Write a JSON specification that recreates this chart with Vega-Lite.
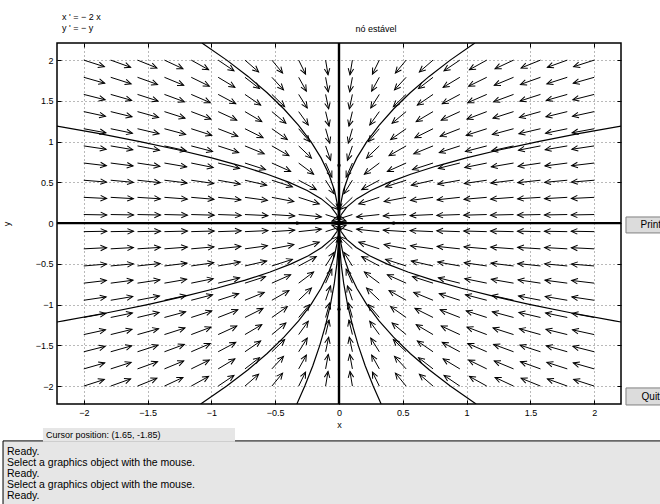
{
  "$schema": "https://vega.github.io/schema/vega-lite/v6.json",
  "width": 564,
  "height": 361,
  "autosize": {"type": "none"},
  "padding": {"left": 57, "top": 43, "right": 39, "bottom": 100},
  "background": "#ffffff",
  "config": {
    "font": "Liberation Sans",
    "view": {"stroke": "#000000", "strokeWidth": 1.5},
    "axis": {
      "labelFont": "Liberation Sans", "labelFontSize": 9, "labelColor": "#000000",
      "tickColor": "#000000", "domain": false,
      "titleFont": "Liberation Sans", "titleFontSize": 9, "titleFontWeight": "normal", "titleColor": "#000000"
    }
  },
  "data": {"values": [{}]},
  "datasets": {
    "field": [
      {"x":-2,"y":2,"hx":-1.839,"hy":1.919,"a":18},{"x":-1.789,"y":2,"hx":-1.633,"hy":1.912,"a":20},{"x":-1.579,"y":2,"hx":-1.427,"hy":1.904,"a":22},{"x":-1.368,"y":2,"hx":-1.223,"hy":1.894,"a":25},{"x":-1.158,"y":2,"hx":-1.022,"hy":1.882,"a":29},{"x":-0.947,"y":2,"hx":-0.823,"hy":1.869,"a":34},{"x":-0.737,"y":2,"hx":-0.63,"hy":1.855,"a":41},{"x":-0.526,"y":2,"hx":-0.442,"hy":1.841,"a":51},{"x":-0.316,"y":2,"hx":-0.262,"hy":1.828,"a":64},{"x":-0.105,"y":2,"hx":-0.086,"hy":1.821,"a":81},
      {"x":0.105,"y":2,"hx":0.086,"hy":1.821,"a":99},{"x":0.316,"y":2,"hx":0.262,"hy":1.828,"a":116},{"x":0.526,"y":2,"hx":0.442,"hy":1.841,"a":129},{"x":0.737,"y":2,"hx":0.63,"hy":1.855,"a":139},{"x":0.947,"y":2,"hx":0.823,"hy":1.869,"a":146},{"x":1.158,"y":2,"hx":1.022,"hy":1.882,"a":151},{"x":1.368,"y":2,"hx":1.223,"hy":1.894,"a":155},{"x":1.579,"y":2,"hx":1.427,"hy":1.904,"a":158},{"x":1.789,"y":2,"hx":1.633,"hy":1.912,"a":160},{"x":2,"y":2,"hx":1.839,"hy":1.919,"a":162},

      {"x":-2,"y":1.789,"hx":-1.836,"hy":1.716,"a":16},{"x":-1.789,"y":1.789,"hx":-1.629,"hy":1.709,"a":18},{"x":-1.579,"y":1.789,"hx":-1.422,"hy":1.701,"a":20},{"x":-1.368,"y":1.789,"hx":-1.217,"hy":1.691,"a":23},{"x":-1.158,"y":1.789,"hx":-1.016,"hy":1.68,"a":26},{"x":-0.947,"y":1.789,"hx":-0.816,"hy":1.666,"a":31},{"x":-0.737,"y":1.789,"hx":-0.623,"hy":1.651,"a":38},{"x":-0.526,"y":1.789,"hx":-0.435,"hy":1.635,"a":47},{"x":-0.316,"y":1.789,"hx":-0.256,"hy":1.62,"a":61},{"x":-0.105,"y":1.789,"hx":-0.084,"hy":1.611,"a":80},
      {"x":0.105,"y":1.789,"hx":0.084,"hy":1.611,"a":100},{"x":0.316,"y":1.789,"hx":0.256,"hy":1.62,"a":119},{"x":0.526,"y":1.789,"hx":0.435,"hy":1.635,"a":133},{"x":0.737,"y":1.789,"hx":0.623,"hy":1.651,"a":142},{"x":0.947,"y":1.789,"hx":0.816,"hy":1.666,"a":149},{"x":1.158,"y":1.789,"hx":1.016,"hy":1.68,"a":154},{"x":1.368,"y":1.789,"hx":1.217,"hy":1.691,"a":157},{"x":1.579,"y":1.789,"hx":1.422,"hy":1.701,"a":160},{"x":1.789,"y":1.789,"hx":1.629,"hy":1.709,"a":162},{"x":2,"y":1.789,"hx":1.836,"hy":1.716,"a":164},

      {"x":-2,"y":1.579,"hx":-1.833,"hy":1.513,"a":14},{"x":-1.789,"y":1.579,"hx":-1.625,"hy":1.506,"a":16},{"x":-1.579,"y":1.579,"hx":-1.418,"hy":1.498,"a":18},{"x":-1.368,"y":1.579,"hx":-1.212,"hy":1.489,"a":20},{"x":-1.158,"y":1.579,"hx":-1.009,"hy":1.478,"a":24},{"x":-0.947,"y":1.579,"hx":-0.809,"hy":1.464,"a":28},{"x":-0.737,"y":1.579,"hx":-0.614,"hy":1.447,"a":34},{"x":-0.526,"y":1.579,"hx":-0.426,"hy":1.429,"a":44},{"x":-0.316,"y":1.579,"hx":-0.249,"hy":1.412,"a":58},{"x":-0.105,"y":1.579,"hx":-0.081,"hy":1.401,"a":78},
      {"x":0.105,"y":1.579,"hx":0.081,"hy":1.401,"a":102},{"x":0.316,"y":1.579,"hx":0.249,"hy":1.412,"a":122},{"x":0.526,"y":1.579,"hx":0.426,"hy":1.429,"a":136},{"x":0.737,"y":1.579,"hx":0.614,"hy":1.447,"a":146},{"x":0.947,"y":1.579,"hx":0.809,"hy":1.464,"a":152},{"x":1.158,"y":1.579,"hx":1.009,"hy":1.478,"a":156},{"x":1.368,"y":1.579,"hx":1.212,"hy":1.489,"a":160},{"x":1.579,"y":1.579,"hx":1.418,"hy":1.498,"a":162},{"x":1.789,"y":1.579,"hx":1.625,"hy":1.506,"a":164},{"x":2,"y":1.579,"hx":1.833,"hy":1.513,"a":166},

      {"x":-2,"y":1.368,"hx":-1.83,"hy":1.31,"a":12},{"x":-1.789,"y":1.368,"hx":-1.622,"hy":1.304,"a":14},{"x":-1.579,"y":1.368,"hx":-1.414,"hy":1.296,"a":15},{"x":-1.368,"y":1.368,"hx":-1.207,"hy":1.287,"a":18},{"x":-1.158,"y":1.368,"hx":-1.003,"hy":1.276,"a":21},{"x":-0.947,"y":1.368,"hx":-0.801,"hy":1.263,"a":25},{"x":-0.737,"y":1.368,"hx":-0.605,"hy":1.246,"a":31},{"x":-0.526,"y":1.368,"hx":-0.416,"hy":1.225,"a":40},{"x":-0.316,"y":1.368,"hx":-0.241,"hy":1.205,"a":54},{"x":-0.105,"y":1.368,"hx":-0.078,"hy":1.19,"a":76},
      {"x":0.105,"y":1.368,"hx":0.078,"hy":1.19,"a":104},{"x":0.316,"y":1.368,"hx":0.241,"hy":1.205,"a":126},{"x":0.526,"y":1.368,"hx":0.416,"hy":1.225,"a":140},{"x":0.737,"y":1.368,"hx":0.605,"hy":1.246,"a":149},{"x":0.947,"y":1.368,"hx":0.801,"hy":1.263,"a":155},{"x":1.158,"y":1.368,"hx":1.003,"hy":1.276,"a":159},{"x":1.368,"y":1.368,"hx":1.207,"hy":1.287,"a":162},{"x":1.579,"y":1.368,"hx":1.414,"hy":1.296,"a":165},{"x":1.789,"y":1.368,"hx":1.622,"hy":1.304,"a":166},{"x":2,"y":1.368,"hx":1.83,"hy":1.31,"a":168},

      {"x":-2,"y":1.158,"hx":-1.827,"hy":1.108,"a":10},{"x":-1.789,"y":1.158,"hx":-1.619,"hy":1.103,"a":12},{"x":-1.579,"y":1.158,"hx":-1.41,"hy":1.096,"a":13},{"x":-1.368,"y":1.158,"hx":-1.202,"hy":1.088,"a":15},{"x":-1.158,"y":1.158,"hx":-0.997,"hy":1.077,"a":18},{"x":-0.947,"y":1.158,"hx":-0.793,"hy":1.064,"a":21},{"x":-0.737,"y":1.158,"hx":-0.595,"hy":1.047,"a":27},{"x":-0.526,"y":1.158,"hx":-0.405,"hy":1.025,"a":35},{"x":-0.316,"y":1.158,"hx":-0.23,"hy":1,"a":50},{"x":-0.105,"y":1.158,"hx":-0.073,"hy":0.981,"a":74},
      {"x":0.105,"y":1.158,"hx":0.073,"hy":0.981,"a":106},{"x":0.316,"y":1.158,"hx":0.23,"hy":1,"a":130},{"x":0.526,"y":1.158,"hx":0.405,"hy":1.025,"a":145},{"x":0.737,"y":1.158,"hx":0.595,"hy":1.047,"a":153},{"x":0.947,"y":1.158,"hx":0.793,"hy":1.064,"a":159},{"x":1.158,"y":1.158,"hx":0.997,"hy":1.077,"a":162},{"x":1.368,"y":1.158,"hx":1.202,"hy":1.088,"a":165},{"x":1.579,"y":1.158,"hx":1.41,"hy":1.096,"a":167},{"x":1.789,"y":1.158,"hx":1.619,"hy":1.103,"a":168},{"x":2,"y":1.158,"hx":1.827,"hy":1.108,"a":170},

      {"x":-2,"y":0.947,"hx":-1.825,"hy":0.906,"a":9},{"x":-1.789,"y":0.947,"hx":-1.616,"hy":0.901,"a":10},{"x":-1.579,"y":0.947,"hx":-1.407,"hy":0.895,"a":11},{"x":-1.368,"y":0.947,"hx":-1.198,"hy":0.888,"a":12},{"x":-1.158,"y":0.947,"hx":-0.991,"hy":0.879,"a":15},{"x":-0.947,"y":0.947,"hx":-0.786,"hy":0.866,"a":18},{"x":-0.737,"y":0.947,"hx":-0.586,"hy":0.85,"a":22},{"x":-0.526,"y":0.947,"hx":-0.392,"hy":0.827,"a":30},{"x":-0.316,"y":0.947,"hx":-0.216,"hy":0.797,"a":44},{"x":-0.105,"y":0.947,"hx":-0.066,"hy":0.771,"a":71},
      {"x":0.105,"y":0.947,"hx":0.066,"hy":0.771,"a":109},{"x":0.316,"y":0.947,"hx":0.216,"hy":0.797,"a":136},{"x":0.526,"y":0.947,"hx":0.392,"hy":0.827,"a":150},{"x":0.737,"y":0.947,"hx":0.586,"hy":0.85,"a":158},{"x":0.947,"y":0.947,"hx":0.786,"hy":0.866,"a":162},{"x":1.158,"y":0.947,"hx":0.991,"hy":0.879,"a":165},{"x":1.368,"y":0.947,"hx":1.198,"hy":0.888,"a":168},{"x":1.579,"y":0.947,"hx":1.407,"hy":0.895,"a":169},{"x":1.789,"y":0.947,"hx":1.616,"hy":0.901,"a":170},{"x":2,"y":0.947,"hx":1.825,"hy":0.906,"a":171},

      {"x":-2,"y":0.737,"hx":-1.823,"hy":0.704,"a":7},{"x":-1.789,"y":0.737,"hx":-1.614,"hy":0.701,"a":7},{"x":-1.579,"y":0.737,"hx":-1.404,"hy":0.696,"a":8},{"x":-1.368,"y":0.737,"hx":-1.194,"hy":0.69,"a":10},{"x":-1.158,"y":0.737,"hx":-0.986,"hy":0.682,"a":11},{"x":-0.947,"y":0.737,"hx":-0.779,"hy":0.672,"a":14},{"x":-0.737,"y":0.737,"hx":-0.576,"hy":0.656,"a":18},{"x":-0.526,"y":0.737,"hx":-0.379,"hy":0.634,"a":24},{"x":-0.316,"y":0.737,"hx":-0.199,"hy":0.6,"a":37},{"x":-0.105,"y":0.737,"hx":-0.056,"hy":0.564,"a":66},
      {"x":0.105,"y":0.737,"hx":0.056,"hy":0.564,"a":114},{"x":0.316,"y":0.737,"hx":0.199,"hy":0.6,"a":143},{"x":0.526,"y":0.737,"hx":0.379,"hy":0.634,"a":156},{"x":0.737,"y":0.737,"hx":0.576,"hy":0.656,"a":162},{"x":0.947,"y":0.737,"hx":0.779,"hy":0.672,"a":166},{"x":1.158,"y":0.737,"hx":0.986,"hy":0.682,"a":169},{"x":1.368,"y":0.737,"hx":1.194,"hy":0.69,"a":170},{"x":1.579,"y":0.737,"hx":1.404,"hy":0.696,"a":172},{"x":1.789,"y":0.737,"hx":1.614,"hy":0.701,"a":173},{"x":2,"y":0.737,"hx":1.823,"hy":0.704,"a":173},

      {"x":-2,"y":0.526,"hx":-1.822,"hy":0.503,"a":5},{"x":-1.789,"y":0.526,"hx":-1.612,"hy":0.5,"a":5},{"x":-1.579,"y":0.526,"hx":-1.401,"hy":0.496,"a":6},{"x":-1.368,"y":0.526,"hx":-1.191,"hy":0.492,"a":7},{"x":-1.158,"y":0.526,"hx":-0.982,"hy":0.486,"a":8},{"x":-0.947,"y":0.526,"hx":-0.774,"hy":0.478,"a":10},{"x":-0.737,"y":0.526,"hx":-0.567,"hy":0.465,"a":13},{"x":-0.526,"y":0.526,"hx":-0.365,"hy":0.445,"a":18},{"x":-0.316,"y":0.526,"hx":-0.178,"hy":0.411,"a":28},{"x":-0.105,"y":0.526,"hx":-0.038,"hy":0.359,"a":58},
      {"x":0.105,"y":0.526,"hx":0.038,"hy":0.359,"a":122},{"x":0.316,"y":0.526,"hx":0.178,"hy":0.411,"a":152},{"x":0.526,"y":0.526,"hx":0.365,"hy":0.445,"a":162},{"x":0.737,"y":0.526,"hx":0.567,"hy":0.465,"a":167},{"x":0.947,"y":0.526,"hx":0.774,"hy":0.478,"a":170},{"x":1.158,"y":0.526,"hx":0.982,"hy":0.486,"a":172},{"x":1.368,"y":0.526,"hx":1.191,"hy":0.492,"a":173},{"x":1.579,"y":0.526,"hx":1.401,"hy":0.496,"a":174},{"x":1.789,"y":0.526,"hx":1.612,"hy":0.5,"a":175},{"x":2,"y":0.526,"hx":1.822,"hy":0.503,"a":175},

      {"x":-2,"y":0.316,"hx":-1.821,"hy":0.302,"a":3},{"x":-1.789,"y":0.316,"hx":-1.611,"hy":0.3,"a":3},{"x":-1.579,"y":0.316,"hx":-1.4,"hy":0.298,"a":4},{"x":-1.368,"y":0.316,"hx":-1.189,"hy":0.295,"a":4},{"x":-1.158,"y":0.316,"hx":-0.98,"hy":0.292,"a":5},{"x":-0.947,"y":0.316,"hx":-0.769,"hy":0.286,"a":6},{"x":-0.737,"y":0.316,"hx":-0.561,"hy":0.278,"a":8},{"x":-0.526,"y":0.316,"hx":-0.354,"hy":0.264,"a":11},{"x":-0.316,"y":0.316,"hx":-0.155,"hy":0.235,"a":18},{"x":-0.105,"y":0.316,"hx":-0.005,"hy":0.166,"a":44},
      {"x":0.105,"y":0.316,"hx":0.005,"hy":0.166,"a":136},{"x":0.316,"y":0.316,"hx":0.155,"hy":0.235,"a":162},{"x":0.526,"y":0.316,"hx":0.354,"hy":0.264,"a":169},{"x":0.737,"y":0.316,"hx":0.561,"hy":0.278,"a":172},{"x":0.947,"y":0.316,"hx":0.769,"hy":0.286,"a":174},{"x":1.158,"y":0.316,"hx":0.98,"hy":0.292,"a":175},{"x":1.368,"y":0.316,"hx":1.189,"hy":0.295,"a":176},{"x":1.579,"y":0.316,"hx":1.4,"hy":0.298,"a":176},{"x":1.789,"y":0.316,"hx":1.611,"hy":0.3,"a":177},{"x":2,"y":0.316,"hx":1.821,"hy":0.302,"a":177},

      {"x":-2,"y":0.105,"hx":-1.82,"hy":0.1,"a":1},{"x":-1.789,"y":0.105,"hx":-1.61,"hy":0.1,"a":1},{"x":-1.579,"y":0.105,"hx":-1.399,"hy":0.099,"a":1},{"x":-1.368,"y":0.105,"hx":-1.188,"hy":0.098,"a":1},{"x":-1.158,"y":0.105,"hx":-0.978,"hy":0.097,"a":2},{"x":-0.947,"y":0.105,"hx":-0.767,"hy":0.095,"a":2},{"x":-0.737,"y":0.105,"hx":-0.557,"hy":0.092,"a":3},{"x":-0.526,"y":0.105,"hx":-0.347,"hy":0.087,"a":4},{"x":-0.316,"y":0.105,"hx":-0.138,"hy":0.075,"a":6},{"x":-0.105,"y":0.105,"hx":0.056,"hy":0.024,"a":18},
      {"x":0.105,"y":0.105,"hx":-0.056,"hy":0.024,"a":162},{"x":0.316,"y":0.105,"hx":0.138,"hy":0.075,"a":174},{"x":0.526,"y":0.105,"hx":0.347,"hy":0.087,"a":176},{"x":0.737,"y":0.105,"hx":0.557,"hy":0.092,"a":177},{"x":0.947,"y":0.105,"hx":0.767,"hy":0.095,"a":178},{"x":1.158,"y":0.105,"hx":0.978,"hy":0.097,"a":178},{"x":1.368,"y":0.105,"hx":1.188,"hy":0.098,"a":179},{"x":1.579,"y":0.105,"hx":1.399,"hy":0.099,"a":179},{"x":1.789,"y":0.105,"hx":1.61,"hy":0.1,"a":179},{"x":2,"y":0.105,"hx":1.82,"hy":0.1,"a":179},

      {"x":-2,"y":-0.105,"hx":-1.82,"hy":-0.1,"a":-1},{"x":-1.789,"y":-0.105,"hx":-1.61,"hy":-0.1,"a":-1},{"x":-1.579,"y":-0.105,"hx":-1.399,"hy":-0.099,"a":-1},{"x":-1.368,"y":-0.105,"hx":-1.188,"hy":-0.098,"a":-1},{"x":-1.158,"y":-0.105,"hx":-0.978,"hy":-0.097,"a":-2},{"x":-0.947,"y":-0.105,"hx":-0.767,"hy":-0.095,"a":-2},{"x":-0.737,"y":-0.105,"hx":-0.557,"hy":-0.092,"a":-3},{"x":-0.526,"y":-0.105,"hx":-0.347,"hy":-0.087,"a":-4},{"x":-0.316,"y":-0.105,"hx":-0.138,"hy":-0.075,"a":-6},{"x":-0.105,"y":-0.105,"hx":0.056,"hy":-0.024,"a":-18},
      {"x":0.105,"y":-0.105,"hx":-0.056,"hy":-0.024,"a":198},{"x":0.316,"y":-0.105,"hx":0.138,"hy":-0.075,"a":186},{"x":0.526,"y":-0.105,"hx":0.347,"hy":-0.087,"a":184},{"x":0.737,"y":-0.105,"hx":0.557,"hy":-0.092,"a":183},{"x":0.947,"y":-0.105,"hx":0.767,"hy":-0.095,"a":182},{"x":1.158,"y":-0.105,"hx":0.978,"hy":-0.097,"a":182},{"x":1.368,"y":-0.105,"hx":1.188,"hy":-0.098,"a":181},{"x":1.579,"y":-0.105,"hx":1.399,"hy":-0.099,"a":181},{"x":1.789,"y":-0.105,"hx":1.61,"hy":-0.1,"a":181},{"x":2,"y":-0.105,"hx":1.82,"hy":-0.1,"a":181},

      {"x":-2,"y":-0.316,"hx":-1.821,"hy":-0.302,"a":-3},{"x":-1.789,"y":-0.316,"hx":-1.611,"hy":-0.3,"a":-3},{"x":-1.579,"y":-0.316,"hx":-1.4,"hy":-0.298,"a":-4},{"x":-1.368,"y":-0.316,"hx":-1.189,"hy":-0.295,"a":-4},{"x":-1.158,"y":-0.316,"hx":-0.98,"hy":-0.292,"a":-5},{"x":-0.947,"y":-0.316,"hx":-0.769,"hy":-0.286,"a":-6},{"x":-0.737,"y":-0.316,"hx":-0.561,"hy":-0.278,"a":-8},{"x":-0.526,"y":-0.316,"hx":-0.354,"hy":-0.264,"a":-11},{"x":-0.316,"y":-0.316,"hx":-0.155,"hy":-0.235,"a":-18},{"x":-0.105,"y":-0.316,"hx":-0.005,"hy":-0.166,"a":-44},
      {"x":0.105,"y":-0.316,"hx":0.005,"hy":-0.166,"a":224},{"x":0.316,"y":-0.316,"hx":0.155,"hy":-0.235,"a":198},{"x":0.526,"y":-0.316,"hx":0.354,"hy":-0.264,"a":191},{"x":0.737,"y":-0.316,"hx":0.561,"hy":-0.278,"a":188},{"x":0.947,"y":-0.316,"hx":0.769,"hy":-0.286,"a":186},{"x":1.158,"y":-0.316,"hx":0.98,"hy":-0.292,"a":185},{"x":1.368,"y":-0.316,"hx":1.189,"hy":-0.295,"a":184},{"x":1.579,"y":-0.316,"hx":1.4,"hy":-0.298,"a":184},{"x":1.789,"y":-0.316,"hx":1.611,"hy":-0.3,"a":183},{"x":2,"y":-0.316,"hx":1.821,"hy":-0.302,"a":183},

      {"x":-2,"y":-0.526,"hx":-1.822,"hy":-0.503,"a":-5},{"x":-1.789,"y":-0.526,"hx":-1.612,"hy":-0.5,"a":-5},{"x":-1.579,"y":-0.526,"hx":-1.401,"hy":-0.496,"a":-6},{"x":-1.368,"y":-0.526,"hx":-1.191,"hy":-0.492,"a":-7},{"x":-1.158,"y":-0.526,"hx":-0.982,"hy":-0.486,"a":-8},{"x":-0.947,"y":-0.526,"hx":-0.774,"hy":-0.478,"a":-10},{"x":-0.737,"y":-0.526,"hx":-0.567,"hy":-0.465,"a":-13},{"x":-0.526,"y":-0.526,"hx":-0.365,"hy":-0.445,"a":-18},{"x":-0.316,"y":-0.526,"hx":-0.178,"hy":-0.411,"a":-28},{"x":-0.105,"y":-0.526,"hx":-0.038,"hy":-0.359,"a":-58},
      {"x":0.105,"y":-0.526,"hx":0.038,"hy":-0.359,"a":238},{"x":0.316,"y":-0.526,"hx":0.178,"hy":-0.411,"a":208},{"x":0.526,"y":-0.526,"hx":0.365,"hy":-0.445,"a":198},{"x":0.737,"y":-0.526,"hx":0.567,"hy":-0.465,"a":193},{"x":0.947,"y":-0.526,"hx":0.774,"hy":-0.478,"a":190},{"x":1.158,"y":-0.526,"hx":0.982,"hy":-0.486,"a":188},{"x":1.368,"y":-0.526,"hx":1.191,"hy":-0.492,"a":187},{"x":1.579,"y":-0.526,"hx":1.401,"hy":-0.496,"a":186},{"x":1.789,"y":-0.526,"hx":1.612,"hy":-0.5,"a":185},{"x":2,"y":-0.526,"hx":1.822,"hy":-0.503,"a":185},

      {"x":-2,"y":-0.737,"hx":-1.823,"hy":-0.704,"a":-7},{"x":-1.789,"y":-0.737,"hx":-1.614,"hy":-0.701,"a":-7},{"x":-1.579,"y":-0.737,"hx":-1.404,"hy":-0.696,"a":-8},{"x":-1.368,"y":-0.737,"hx":-1.194,"hy":-0.69,"a":-10},{"x":-1.158,"y":-0.737,"hx":-0.986,"hy":-0.682,"a":-11},{"x":-0.947,"y":-0.737,"hx":-0.779,"hy":-0.672,"a":-14},{"x":-0.737,"y":-0.737,"hx":-0.576,"hy":-0.656,"a":-18},{"x":-0.526,"y":-0.737,"hx":-0.379,"hy":-0.634,"a":-24},{"x":-0.316,"y":-0.737,"hx":-0.199,"hy":-0.6,"a":-37},{"x":-0.105,"y":-0.737,"hx":-0.056,"hy":-0.564,"a":-66},
      {"x":0.105,"y":-0.737,"hx":0.056,"hy":-0.564,"a":246},{"x":0.316,"y":-0.737,"hx":0.199,"hy":-0.6,"a":217},{"x":0.526,"y":-0.737,"hx":0.379,"hy":-0.634,"a":204},{"x":0.737,"y":-0.737,"hx":0.576,"hy":-0.656,"a":198},{"x":0.947,"y":-0.737,"hx":0.779,"hy":-0.672,"a":194},{"x":1.158,"y":-0.737,"hx":0.986,"hy":-0.682,"a":191},{"x":1.368,"y":-0.737,"hx":1.194,"hy":-0.69,"a":190},{"x":1.579,"y":-0.737,"hx":1.404,"hy":-0.696,"a":188},{"x":1.789,"y":-0.737,"hx":1.614,"hy":-0.701,"a":187},{"x":2,"y":-0.737,"hx":1.823,"hy":-0.704,"a":187},

      {"x":-2,"y":-0.947,"hx":-1.825,"hy":-0.906,"a":-9},{"x":-1.789,"y":-0.947,"hx":-1.616,"hy":-0.901,"a":-10},{"x":-1.579,"y":-0.947,"hx":-1.407,"hy":-0.895,"a":-11},{"x":-1.368,"y":-0.947,"hx":-1.198,"hy":-0.888,"a":-12},{"x":-1.158,"y":-0.947,"hx":-0.991,"hy":-0.879,"a":-15},{"x":-0.947,"y":-0.947,"hx":-0.786,"hy":-0.866,"a":-18},{"x":-0.737,"y":-0.947,"hx":-0.586,"hy":-0.85,"a":-22},{"x":-0.526,"y":-0.947,"hx":-0.392,"hy":-0.827,"a":-30},{"x":-0.316,"y":-0.947,"hx":-0.216,"hy":-0.797,"a":-44},{"x":-0.105,"y":-0.947,"hx":-0.066,"hy":-0.771,"a":-71},
      {"x":0.105,"y":-0.947,"hx":0.066,"hy":-0.771,"a":251},{"x":0.316,"y":-0.947,"hx":0.216,"hy":-0.797,"a":224},{"x":0.526,"y":-0.947,"hx":0.392,"hy":-0.827,"a":210},{"x":0.737,"y":-0.947,"hx":0.586,"hy":-0.85,"a":202},{"x":0.947,"y":-0.947,"hx":0.786,"hy":-0.866,"a":198},{"x":1.158,"y":-0.947,"hx":0.991,"hy":-0.879,"a":195},{"x":1.368,"y":-0.947,"hx":1.198,"hy":-0.888,"a":192},{"x":1.579,"y":-0.947,"hx":1.407,"hy":-0.895,"a":191},{"x":1.789,"y":-0.947,"hx":1.616,"hy":-0.901,"a":190},{"x":2,"y":-0.947,"hx":1.825,"hy":-0.906,"a":189},

      {"x":-2,"y":-1.158,"hx":-1.827,"hy":-1.108,"a":-10},{"x":-1.789,"y":-1.158,"hx":-1.619,"hy":-1.103,"a":-12},{"x":-1.579,"y":-1.158,"hx":-1.41,"hy":-1.096,"a":-13},{"x":-1.368,"y":-1.158,"hx":-1.202,"hy":-1.088,"a":-15},{"x":-1.158,"y":-1.158,"hx":-0.997,"hy":-1.077,"a":-18},{"x":-0.947,"y":-1.158,"hx":-0.793,"hy":-1.064,"a":-21},{"x":-0.737,"y":-1.158,"hx":-0.595,"hy":-1.047,"a":-27},{"x":-0.526,"y":-1.158,"hx":-0.405,"hy":-1.025,"a":-35},{"x":-0.316,"y":-1.158,"hx":-0.23,"hy":-1,"a":-50},{"x":-0.105,"y":-1.158,"hx":-0.073,"hy":-0.981,"a":-74},
      {"x":0.105,"y":-1.158,"hx":0.073,"hy":-0.981,"a":254},{"x":0.316,"y":-1.158,"hx":0.23,"hy":-1,"a":230},{"x":0.526,"y":-1.158,"hx":0.405,"hy":-1.025,"a":215},{"x":0.737,"y":-1.158,"hx":0.595,"hy":-1.047,"a":207},{"x":0.947,"y":-1.158,"hx":0.793,"hy":-1.064,"a":201},{"x":1.158,"y":-1.158,"hx":0.997,"hy":-1.077,"a":198},{"x":1.368,"y":-1.158,"hx":1.202,"hy":-1.088,"a":195},{"x":1.579,"y":-1.158,"hx":1.41,"hy":-1.096,"a":193},{"x":1.789,"y":-1.158,"hx":1.619,"hy":-1.103,"a":192},{"x":2,"y":-1.158,"hx":1.827,"hy":-1.108,"a":190},

      {"x":-2,"y":-1.368,"hx":-1.83,"hy":-1.31,"a":-12},{"x":-1.789,"y":-1.368,"hx":-1.622,"hy":-1.304,"a":-14},{"x":-1.579,"y":-1.368,"hx":-1.414,"hy":-1.296,"a":-15},{"x":-1.368,"y":-1.368,"hx":-1.207,"hy":-1.287,"a":-18},{"x":-1.158,"y":-1.368,"hx":-1.003,"hy":-1.276,"a":-21},{"x":-0.947,"y":-1.368,"hx":-0.801,"hy":-1.263,"a":-25},{"x":-0.737,"y":-1.368,"hx":-0.605,"hy":-1.246,"a":-31},{"x":-0.526,"y":-1.368,"hx":-0.416,"hy":-1.225,"a":-40},{"x":-0.316,"y":-1.368,"hx":-0.241,"hy":-1.205,"a":-54},{"x":-0.105,"y":-1.368,"hx":-0.078,"hy":-1.19,"a":-76},
      {"x":0.105,"y":-1.368,"hx":0.078,"hy":-1.19,"a":256},{"x":0.316,"y":-1.368,"hx":0.241,"hy":-1.205,"a":234},{"x":0.526,"y":-1.368,"hx":0.416,"hy":-1.225,"a":220},{"x":0.737,"y":-1.368,"hx":0.605,"hy":-1.246,"a":211},{"x":0.947,"y":-1.368,"hx":0.801,"hy":-1.263,"a":205},{"x":1.158,"y":-1.368,"hx":1.003,"hy":-1.276,"a":201},{"x":1.368,"y":-1.368,"hx":1.207,"hy":-1.287,"a":198},{"x":1.579,"y":-1.368,"hx":1.414,"hy":-1.296,"a":195},{"x":1.789,"y":-1.368,"hx":1.622,"hy":-1.304,"a":194},{"x":2,"y":-1.368,"hx":1.83,"hy":-1.31,"a":192},

      {"x":-2,"y":-1.579,"hx":-1.833,"hy":-1.513,"a":-14},{"x":-1.789,"y":-1.579,"hx":-1.625,"hy":-1.506,"a":-16},{"x":-1.579,"y":-1.579,"hx":-1.418,"hy":-1.498,"a":-18},{"x":-1.368,"y":-1.579,"hx":-1.212,"hy":-1.489,"a":-20},{"x":-1.158,"y":-1.579,"hx":-1.009,"hy":-1.478,"a":-24},{"x":-0.947,"y":-1.579,"hx":-0.809,"hy":-1.464,"a":-28},{"x":-0.737,"y":-1.579,"hx":-0.614,"hy":-1.447,"a":-34},{"x":-0.526,"y":-1.579,"hx":-0.426,"hy":-1.429,"a":-44},{"x":-0.316,"y":-1.579,"hx":-0.249,"hy":-1.412,"a":-58},{"x":-0.105,"y":-1.579,"hx":-0.081,"hy":-1.401,"a":-78},
      {"x":0.105,"y":-1.579,"hx":0.081,"hy":-1.401,"a":258},{"x":0.316,"y":-1.579,"hx":0.249,"hy":-1.412,"a":238},{"x":0.526,"y":-1.579,"hx":0.426,"hy":-1.429,"a":224},{"x":0.737,"y":-1.579,"hx":0.614,"hy":-1.447,"a":214},{"x":0.947,"y":-1.579,"hx":0.809,"hy":-1.464,"a":208},{"x":1.158,"y":-1.579,"hx":1.009,"hy":-1.478,"a":204},{"x":1.368,"y":-1.579,"hx":1.212,"hy":-1.489,"a":200},{"x":1.579,"y":-1.579,"hx":1.418,"hy":-1.498,"a":198},{"x":1.789,"y":-1.579,"hx":1.625,"hy":-1.506,"a":196},{"x":2,"y":-1.579,"hx":1.833,"hy":-1.513,"a":194},

      {"x":-2,"y":-1.789,"hx":-1.836,"hy":-1.716,"a":-16},{"x":-1.789,"y":-1.789,"hx":-1.629,"hy":-1.709,"a":-18},{"x":-1.579,"y":-1.789,"hx":-1.422,"hy":-1.701,"a":-20},{"x":-1.368,"y":-1.789,"hx":-1.217,"hy":-1.691,"a":-23},{"x":-1.158,"y":-1.789,"hx":-1.016,"hy":-1.68,"a":-26},{"x":-0.947,"y":-1.789,"hx":-0.816,"hy":-1.666,"a":-31},{"x":-0.737,"y":-1.789,"hx":-0.623,"hy":-1.651,"a":-38},{"x":-0.526,"y":-1.789,"hx":-0.435,"hy":-1.635,"a":-47},{"x":-0.316,"y":-1.789,"hx":-0.256,"hy":-1.62,"a":-61},{"x":-0.105,"y":-1.789,"hx":-0.084,"hy":-1.611,"a":-80},
      {"x":0.105,"y":-1.789,"hx":0.084,"hy":-1.611,"a":260},{"x":0.316,"y":-1.789,"hx":0.256,"hy":-1.62,"a":241},{"x":0.526,"y":-1.789,"hx":0.435,"hy":-1.635,"a":227},{"x":0.737,"y":-1.789,"hx":0.623,"hy":-1.651,"a":218},{"x":0.947,"y":-1.789,"hx":0.816,"hy":-1.666,"a":211},{"x":1.158,"y":-1.789,"hx":1.016,"hy":-1.68,"a":206},{"x":1.368,"y":-1.789,"hx":1.217,"hy":-1.691,"a":203},{"x":1.579,"y":-1.789,"hx":1.422,"hy":-1.701,"a":200},{"x":1.789,"y":-1.789,"hx":1.629,"hy":-1.709,"a":198},{"x":2,"y":-1.789,"hx":1.836,"hy":-1.716,"a":196},

      {"x":-2,"y":-2,"hx":-1.839,"hy":-1.919,"a":-18},{"x":-1.789,"y":-2,"hx":-1.633,"hy":-1.912,"a":-20},{"x":-1.579,"y":-2,"hx":-1.427,"hy":-1.904,"a":-22},{"x":-1.368,"y":-2,"hx":-1.223,"hy":-1.894,"a":-25},{"x":-1.158,"y":-2,"hx":-1.022,"hy":-1.882,"a":-29},{"x":-0.947,"y":-2,"hx":-0.823,"hy":-1.869,"a":-34},{"x":-0.737,"y":-2,"hx":-0.63,"hy":-1.855,"a":-41},{"x":-0.526,"y":-2,"hx":-0.442,"hy":-1.841,"a":-51},{"x":-0.316,"y":-2,"hx":-0.262,"hy":-1.828,"a":-64},{"x":-0.105,"y":-2,"hx":-0.086,"hy":-1.821,"a":-81},
      {"x":0.105,"y":-2,"hx":0.086,"hy":-1.821,"a":261},{"x":0.316,"y":-2,"hx":0.262,"hy":-1.828,"a":244},{"x":0.526,"y":-2,"hx":0.442,"hy":-1.841,"a":231},{"x":0.737,"y":-2,"hx":0.63,"hy":-1.855,"a":221},{"x":0.947,"y":-2,"hx":0.823,"hy":-1.869,"a":214},{"x":1.158,"y":-2,"hx":1.022,"hy":-1.882,"a":209},{"x":1.368,"y":-2,"hx":1.223,"hy":-1.894,"a":205},{"x":1.579,"y":-2,"hx":1.427,"hy":-1.904,"a":202},{"x":1.789,"y":-2,"hx":1.633,"hy":-1.912,"a":200},{"x":2,"y":-2,"hx":1.839,"hy":-1.919,"a":198}
    ],
    "orbits": [
      {"id":"a1","x":0,"y":0},{"id":"a1","x":-0.0088,"y":0.2},{"id":"a1","x":-0.0352,"y":0.4},{"id":"a1","x":-0.0792,"y":0.6},{"id":"a1","x":-0.1408,"y":0.8},{"id":"a1","x":-0.22,"y":1.0},{"id":"a1","x":-0.3168,"y":1.2},{"id":"a1","x":-0.4312,"y":1.4},{"id":"a1","x":-0.5632,"y":1.6},{"id":"a1","x":-0.7128,"y":1.8},{"id":"a1","x":-0.88,"y":2.0},{"id":"a1","x":-1.074,"y":2.21},
      {"id":"a2","x":0,"y":0},{"id":"a2","x":0.0087,"y":0.2},{"id":"a2","x":0.0349,"y":0.4},{"id":"a2","x":0.0785,"y":0.6},{"id":"a2","x":0.1395,"y":0.8},{"id":"a2","x":0.218,"y":1.0},{"id":"a2","x":0.3139,"y":1.2},{"id":"a2","x":0.4273,"y":1.4},{"id":"a2","x":0.5581,"y":1.6},{"id":"a2","x":0.7063,"y":1.8},{"id":"a2","x":0.872,"y":2.0},{"id":"a2","x":1.0647,"y":2.21},
      {"id":"a3","x":0,"y":0},{"id":"a3","x":-0.0088,"y":-0.2},{"id":"a3","x":-0.0352,"y":-0.4},{"id":"a3","x":-0.0792,"y":-0.6},{"id":"a3","x":-0.1408,"y":-0.8},{"id":"a3","x":-0.22,"y":-1.0},{"id":"a3","x":-0.3168,"y":-1.2},{"id":"a3","x":-0.4312,"y":-1.4},{"id":"a3","x":-0.5632,"y":-1.6},{"id":"a3","x":-0.7128,"y":-1.8},{"id":"a3","x":-0.88,"y":-2.0},{"id":"a3","x":-1.084,"y":-2.22},
      {"id":"a4","x":0,"y":0},{"id":"a4","x":0.0087,"y":-0.2},{"id":"a4","x":0.0349,"y":-0.4},{"id":"a4","x":0.0785,"y":-0.6},{"id":"a4","x":0.1395,"y":-0.8},{"id":"a4","x":0.218,"y":-1.0},{"id":"a4","x":0.3139,"y":-1.2},{"id":"a4","x":0.4273,"y":-1.4},{"id":"a4","x":0.5581,"y":-1.6},{"id":"a4","x":0.7063,"y":-1.8},{"id":"a4","x":0.872,"y":-2.0},{"id":"a4","x":1.0744,"y":-2.22},
      {"id":"b1","x":0,"y":0},{"id":"b1","x":-0.0156,"y":0.1},{"id":"b1","x":-0.0624,"y":0.2},{"id":"b1","x":-0.1404,"y":0.3},{"id":"b1","x":-0.2496,"y":0.4},{"id":"b1","x":-0.39,"y":0.5},{"id":"b1","x":-0.5616,"y":0.6},{"id":"b1","x":-0.7644,"y":0.7},{"id":"b1","x":-0.9984,"y":0.8},{"id":"b1","x":-1.2636,"y":0.9},{"id":"b1","x":-1.56,"y":1.0},{"id":"b1","x":-1.8876,"y":1.1},{"id":"b1","x":-2.21,"y":1.19},
      {"id":"b2","x":0,"y":0},{"id":"b2","x":0.0156,"y":0.1},{"id":"b2","x":0.0624,"y":0.2},{"id":"b2","x":0.1404,"y":0.3},{"id":"b2","x":0.2496,"y":0.4},{"id":"b2","x":0.39,"y":0.5},{"id":"b2","x":0.5616,"y":0.6},{"id":"b2","x":0.7644,"y":0.7},{"id":"b2","x":0.9984,"y":0.8},{"id":"b2","x":1.2636,"y":0.9},{"id":"b2","x":1.56,"y":1.0},{"id":"b2","x":1.8876,"y":1.1},{"id":"b2","x":2.21,"y":1.19},
      {"id":"b3","x":0,"y":0},{"id":"b3","x":-0.015,"y":-0.1},{"id":"b3","x":-0.06,"y":-0.2},{"id":"b3","x":-0.135,"y":-0.3},{"id":"b3","x":-0.24,"y":-0.4},{"id":"b3","x":-0.375,"y":-0.5},{"id":"b3","x":-0.54,"y":-0.6},{"id":"b3","x":-0.735,"y":-0.7},{"id":"b3","x":-0.96,"y":-0.8},{"id":"b3","x":-1.215,"y":-0.9},{"id":"b3","x":-1.5,"y":-1.0},{"id":"b3","x":-1.815,"y":-1.1},{"id":"b3","x":-2.16,"y":-1.2},{"id":"b3","x":-2.21,"y":-1.214},
      {"id":"b4","x":0,"y":0},{"id":"b4","x":0.015,"y":-0.1},{"id":"b4","x":0.06,"y":-0.2},{"id":"b4","x":0.135,"y":-0.3},{"id":"b4","x":0.24,"y":-0.4},{"id":"b4","x":0.375,"y":-0.5},{"id":"b4","x":0.54,"y":-0.6},{"id":"b4","x":0.735,"y":-0.7},{"id":"b4","x":0.96,"y":-0.8},{"id":"b4","x":1.215,"y":-0.9},{"id":"b4","x":1.5,"y":-1.0},{"id":"b4","x":1.815,"y":-1.1},{"id":"b4","x":2.16,"y":-1.2},{"id":"b4","x":2.21,"y":-1.214},
      {"id":"c1","x":0,"y":0},{"id":"c1","x":-0.0042,"y":-0.25},{"id":"c1","x":-0.0168,"y":-0.5},{"id":"c1","x":-0.0377,"y":-0.75},{"id":"c1","x":-0.067,"y":-1.0},{"id":"c1","x":-0.1047,"y":-1.25},{"id":"c1","x":-0.1508,"y":-1.5},{"id":"c1","x":-0.2052,"y":-1.75},{"id":"c1","x":-0.268,"y":-2.0},{"id":"c1","x":-0.3302,"y":-2.22},
      {"id":"c2","x":0,"y":0},{"id":"c2","x":0.0042,"y":-0.25},{"id":"c2","x":0.0168,"y":-0.5},{"id":"c2","x":0.0377,"y":-0.75},{"id":"c2","x":0.067,"y":-1.0},{"id":"c2","x":0.1047,"y":-1.25},{"id":"c2","x":0.1508,"y":-1.5},{"id":"c2","x":0.2052,"y":-1.75},{"id":"c2","x":0.268,"y":-2.0},{"id":"c2","x":0.3302,"y":-2.22}
    ],
    "axisOrbits": [
      {"x":0,"y":-2.22,"x2":0,"y2":2.21},
      {"x":-2.21,"y":0,"x2":2.21,"y2":0}
    ],
    "orbitArrows": [
      {"x":-0.31,"y":0,"a":0},
      {"x":0.41,"y":0,"a":180},
      {"x":0,"y":0.68,"a":90},
      {"x":0,"y":-1.03,"a":-90}
    ]
  },
  "layer": [
    {
      "data": {"name": "field"},
      "mark": {"type": "rule", "stroke": "#000000", "strokeWidth": 1},
      "encoding": {
        "x": {"field": "x", "type": "quantitative",
          "scale": {"domain": [-2.21, 2.21], "nice": false, "zero": false},
          "axis": {"orient": "bottom", "values": [-2, -1.5, -1, -0.5, 0, 0.5, 1, 1.5, 2], "format": "~g",
            "tickSize": -4, "labelPadding": 8, "grid": true, "gridDash": [1, 3], "gridColor": "#000000", "gridOpacity": 0.55,
            "title": "x", "titlePadding": 3}},
        "y": {"field": "y", "type": "quantitative",
          "scale": {"domain": [-2.22, 2.21], "nice": false, "zero": false},
          "axis": {"orient": "left", "values": [-2, -1.5, -1, -0.5, 0, 0.5, 1, 1.5, 2], "format": "~g",
            "tickSize": -4, "labelPadding": 8, "grid": true, "gridDash": [1, 3], "gridColor": "#000000", "gridOpacity": 0.55,
            "title": "y", "titlePadding": 24}},
        "x2": {"field": "hx"},
        "y2": {"field": "hy"}
      }
    },
    {
      "data": {"name": "field"},
      "mark": {"type": "point", "shape": "M-1,-0.45L0,0L-1,0.45", "filled": false, "stroke": "#000000", "strokeWidth": 1, "opacity": 1, "size": 150},
      "encoding": {
        "x": {"field": "hx", "type": "quantitative",
          "axis": {"orient": "top", "values": [-2, -1.5, -1, -0.5, 0, 0.5, 1, 1.5, 2], "labels": false, "tickSize": -4, "grid": false, "title": null}},
        "y": {"field": "hy", "type": "quantitative",
          "axis": {"orient": "right", "values": [-2, -1.5, -1, -0.5, 0, 0.5, 1, 1.5, 2], "labels": false, "tickSize": -4, "grid": false, "title": null}},
        "angle": {"field": "a", "type": "quantitative", "scale": null}
      }
    },
    {
      "data": {"name": "orbits"},
      "mark": {"type": "line", "stroke": "#000000", "strokeWidth": 1.2, "clip": true},
      "encoding": {
        "x": {"field": "x", "type": "quantitative", "axis": null},
        "y": {"field": "y", "type": "quantitative", "axis": null},
        "detail": {"field": "id"}
      }
    },
    {
      "data": {"name": "axisOrbits"},
      "mark": {"type": "rule", "stroke": "#000000", "strokeWidth": 2.4},
      "encoding": {
        "x": {"field": "x", "type": "quantitative", "axis": null},
        "y": {"field": "y", "type": "quantitative", "axis": null},
        "x2": {"field": "x2"},
        "y2": {"field": "y2"}
      }
    },
    {
      "data": {"name": "orbitArrows"},
      "mark": {"type": "point", "shape": "M-1,-0.6L1,0L-1,0.6Z", "filled": true, "fill": "#000000", "opacity": 1, "size": 40},
      "encoding": {
        "x": {"field": "x", "type": "quantitative", "axis": null},
        "y": {"field": "y", "type": "quantitative", "axis": null},
        "angle": {"field": "a", "type": "quantitative", "scale": null}
      }
    },
    {
      "mark": {"type": "point", "filled": true, "fill": "#000000", "opacity": 1, "size": 25},
      "encoding": {
        "x": {"datum": 0, "type": "quantitative", "axis": null},
        "y": {"datum": 0, "type": "quantitative", "axis": null}
      }
    },
    {
      "mark": {"type": "text", "align": "left", "baseline": "middle", "fontSize": 9, "font": "Liberation Sans", "color": "#000000", "lineBreak": "\n", "lineHeight": 11},
      "encoding": {
        "x": {"datum": -2.17, "type": "quantitative", "axis": null},
        "y": {"datum": 2.53, "type": "quantitative", "axis": null},
        "text": {"value": "x ' = − 2 x\ny ' = − y"}
      }
    },
    {
      "mark": {"type": "text", "align": "center", "baseline": "middle", "fontSize": 9, "font": "Liberation Sans", "color": "#000000"},
      "encoding": {
        "x": {"datum": 0.29, "type": "quantitative", "axis": null},
        "y": {"datum": 2.38, "type": "quantitative", "axis": null},
        "text": {"value": "nó estável"}
      }
    },
    {
      "mark": {"type": "rect", "fill": "#e6e6e6", "stroke": "#000000", "strokeWidth": 1, "clip": false},
      "encoding": {
        "x": {"datum": -2.633, "type": "quantitative", "axis": null},
        "x2": {"datum": 2.6},
        "y": {"datum": -2.673, "type": "quantitative", "axis": null},
        "y2": {"datum": -3.6}
      }
    },
    {
      "mark": {"type": "rect", "fill": "#e6e6e6", "clip": false},
      "encoding": {
        "x": {"datum": -2.32, "type": "quantitative", "axis": null},
        "x2": {"datum": -0.815},
        "y": {"datum": -2.514, "type": "quantitative", "axis": null},
        "y2": {"datum": -2.684}
      }
    },
    {
      "mark": {"type": "text", "align": "left", "baseline": "middle", "fontSize": 9, "font": "Liberation Sans", "color": "#000000"},
      "encoding": {
        "x": {"datum": -2.296, "type": "quantitative", "axis": null},
        "y": {"datum": -2.6, "type": "quantitative", "axis": null},
        "text": {"value": "Cursor position:  (1.65, -1.85)"}
      }
    },
    {
      "mark": {"type": "text", "align": "left", "baseline": "middle", "fontSize": 10.5, "font": "Liberation Sans", "color": "#000000", "lineBreak": "\n", "lineHeight": 11},
      "encoding": {
        "x": {"datum": -2.602, "type": "quantitative", "axis": null},
        "y": {"datum": -2.805, "type": "quantitative", "axis": null},
        "text": {"value": "Ready.\nSelect a graphics object with the mouse.\nReady.\nSelect a graphics object with the mouse.\nReady."}
      }
    },
    {
      "mark": {"type": "rect", "fill": "#dcdcdc", "stroke": "#808080", "strokeWidth": 1, "clip": false},
      "encoding": {
        "x": {"datum": 2.249, "type": "quantitative", "axis": null},
        "x2": {"datum": 2.6},
        "y": {"datum": 0.075, "type": "quantitative", "axis": null},
        "y2": {"datum": -0.121}
      }
    },
    {
      "mark": {"type": "rect", "fill": "#dcdcdc", "stroke": "#808080", "strokeWidth": 1, "clip": false},
      "encoding": {
        "x": {"datum": 2.249, "type": "quantitative", "axis": null},
        "x2": {"datum": 2.6},
        "y": {"datum": -2.023, "type": "quantitative", "axis": null},
        "y2": {"datum": -2.232}
      }
    },
    {
      "mark": {"type": "text", "align": "left", "baseline": "middle", "fontSize": 10, "font": "Liberation Sans", "color": "#000000"},
      "encoding": {
        "x": {"datum": 2.363, "type": "quantitative", "axis": null},
        "y": {"datum": -0.023, "type": "quantitative", "axis": null},
        "text": {"value": "Print"}
      }
    },
    {
      "mark": {"type": "text", "align": "left", "baseline": "middle", "fontSize": 10, "font": "Liberation Sans", "color": "#000000"},
      "encoding": {
        "x": {"datum": 2.371, "type": "quantitative", "axis": null},
        "y": {"datum": -2.134, "type": "quantitative", "axis": null},
        "text": {"value": "Quit"}
      }
    }
  ],
  "resolve": {"axis": {"x": "independent", "y": "independent"}}
}
